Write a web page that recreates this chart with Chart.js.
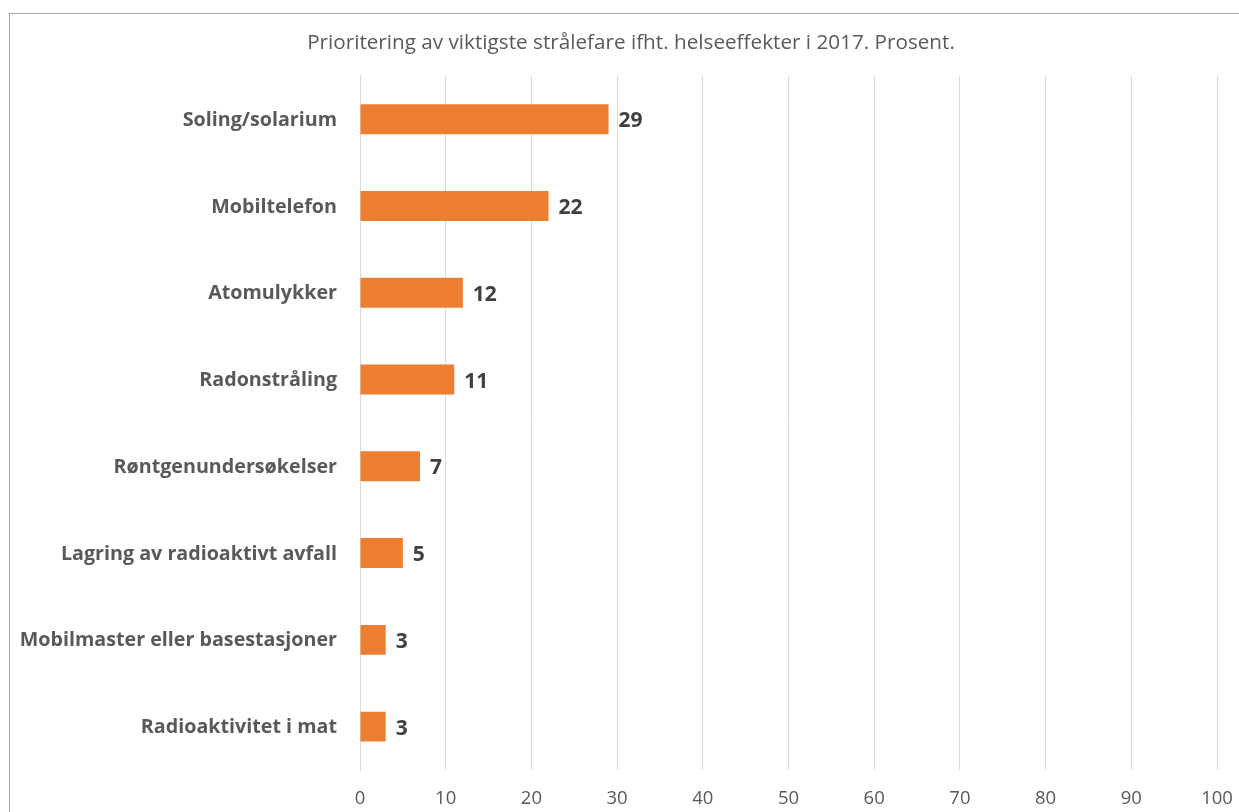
<!DOCTYPE html>
<html>
<head>
<meta charset="utf-8">
<script src="https://cdn.jsdelivr.net/npm/chart.js@4.4.0/dist/chart.umd.min.js"></script>
<style>
  html, body { margin: 0; padding: 0; background: #fff; }
  body { width: 1239px; height: 812px; position: relative; overflow: hidden; }
  #frame { position: absolute; left: 9px; top: 13px; width: 1300px; height: 900px;
           border-left: 1px solid #a6a6a6; border-top: 1px solid #a6a6a6; }
  #wrap { position: absolute; left: 0; top: 0; width: 1239px; height: 812px; }
</style>
</head>
<body>
<div id="frame"></div>
<div id="wrap"><canvas id="c" width="1239" height="812"></canvas></div>
<script>
const categories = [
  "Soling/solarium",
  "Mobiltelefon",
  "Atomulykker",
  "Radonstråling",
  "Røntgenundersøkelser",
  "Lagring av radioaktivt avfall",
  "Mobilmaster eller basestasjoner",
  "Radioaktivitet i mat"
];
const values = [29, 22, 12, 11, 7, 5, 3, 3];
const xTicks = [0, 10, 20, 30, 40, 50, 60, 70, 80, 90, 100];
const titleText = "Prioritering av viktigste strålefare ifht. helseeffekter i 2017. Prosent.";

const FONT = "'Open Sans', 'DejaVu Sans', sans-serif";

const valueLabels = {
  id: 'valueLabels',
  afterDatasetsDraw(chart) {
    const ctx = chart.ctx;
    const meta = chart.getDatasetMeta(0);
    ctx.save();
    ctx.font = "bold 21px " + FONT;
    ctx.fillStyle = '#404040';
    ctx.textAlign = 'left';
    ctx.textBaseline = 'middle';
    meta.data.forEach((bar, i) => {
      ctx.fillText(String(values[i]), bar.x + 10, bar.y + 2);
    });
    ctx.restore();
  }
};

// centre the title over the chart frame rather than the full canvas width
const titleShift = {
  id: 'titleShift',
  afterLayout(chart) {
    const t = chart.titleBlock;
    if (t) { t.left = 45; t.width = t.right - t.left; }
  }
};

new Chart(document.getElementById('c'), {
  type: 'bar',
  data: {
    labels: categories,
    datasets: [{
      data: values,
      backgroundColor: '#ED7D31',
      borderWidth: 0,
      barPercentage: 0.69,
      categoryPercentage: 0.5
    }]
  },
  options: {
    indexAxis: 'y',
    responsive: false,
    animation: false,
    devicePixelRatio: 1,
    layout: { padding: { left: 0, right: 22, top: 0, bottom: 0 } },
    plugins: {
      legend: { display: false },
      tooltip: { enabled: false },
      title: {
        display: true,
        text: titleText,
        color: '#595959',
        font: { family: FONT, size: 20.7, weight: 'normal' },
        padding: { top: 31, bottom: 20 }
      }
    },
    scales: {
      x: {
        min: 0, max: 100,
        afterBuildTicks(scale) { scale.ticks = xTicks.map(v => ({ value: v })); },
        afterFit(scale) { scale.height = 42; scale.paddingLeft = 0; scale.paddingRight = 0; },
        grid: { color: '#d9d9d9', lineWidth: 1, drawTicks: false },
        border: { display: false },
        ticks: {
          color: '#595959',
          font: { family: FONT, size: 18.5 },
          padding: 18,
          maxRotation: 0
        }
      },
      y: {
        afterFit(scale) { scale.width = 360; },
        grid: { display: false, drawTicks: false },
        border: { display: true, color: '#d9d9d9', width: 1 },
        ticks: {
          color: '#595959',
          font: { family: FONT, size: 19.7, weight: 'bold' },
          padding: 23,
          labelOffset: 1
        }
      }
    }
  },
  plugins: [valueLabels, titleShift]
});
</script>
</body>
</html>
